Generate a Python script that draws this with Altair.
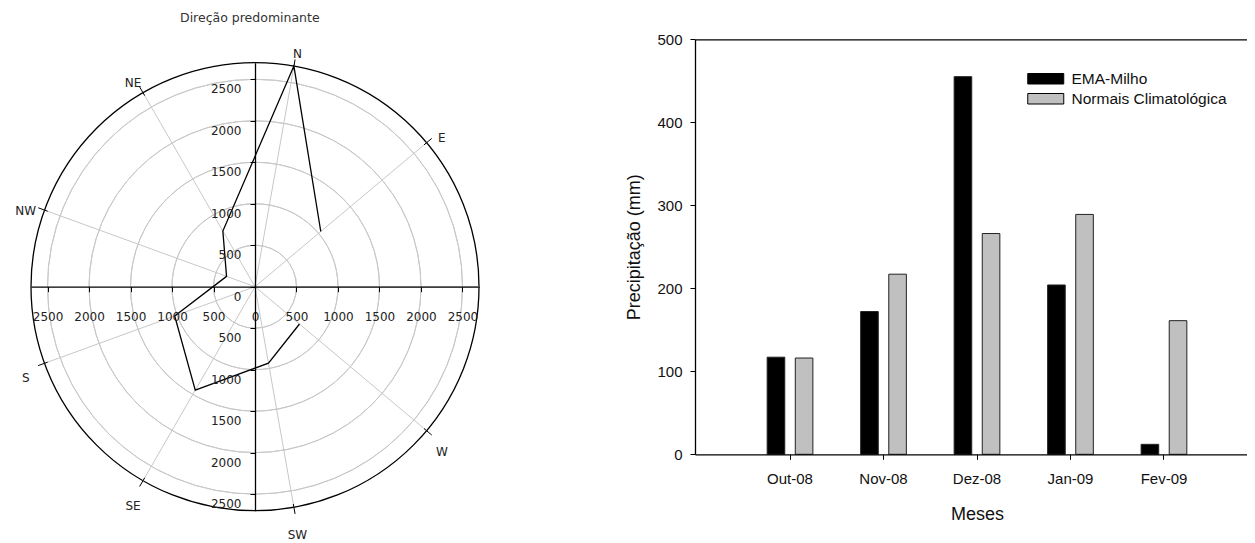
import altair as alt
import pandas as pd

# ---------------- data ----------------
polar_title = "Direção predominante"
spokes = ["N", "E", "", "W", "SW", "SE", "S", "NW", "NE"]
wind = [2700, 1035, None, 700, 935, 1440, 1030, 365, 775]
ring_values = [500, 1000, 1500, 2000, 2500]
polar_ticks = [-2500, -2000, -1500, -1000, -500, 0, 500, 1000, 1500, 2000, 2500]
R_MAX = 2700

months = ["Out-08", "Nov-08", "Dez-08", "Jan-09", "Fev-09"]
ema_milho = [117, 172, 455, 204, 12]
normais = [116, 217, 266, 289, 161]
series = ["EMA-Milho", "Normais Climatológica"]
bar_ticks = [0, 100, 200, 300, 400, 500]

# ---------------- layout (pixels, plot coordinates) ----------------
W, H = 1239, 513
PAD_TOP = 22
CX, CY, RPX = 247, 256.7, 224
LABEL_R = R_MAX * 244 / 224
BAR_X0, BAR_X1 = 687, 1251
BAR_Y0, BAR_Y500 = 424.3, 9.3
FONT_P = "DejaVu Sans"
FONT_B = "Liberation Sans"

# ---------------- polar chart ----------------
sx = alt.Scale(domain=[-R_MAX, R_MAX], range=[CX - RPX, CX + RPX], nice=False, zero=False)
sy = alt.Scale(domain=[-R_MAX, R_MAX], range=[CY + RPX, CY - RPX], nice=False, zero=False)
srad = alt.Scale(type="linear", domain=[0, R_MAX], range=[0, RPX], zero=True)

common_ax = dict(values=polar_ticks, labelExpr="format(abs(datum.value), 'd')", title=None,
                 grid=False, tickSize=5, tickColor="black", domainColor="black",
                 domainWidth=1.3, tickWidth=1, labelFont=FONT_P, labelFontSize=12,
                 labelColor="#222", labelFlush=False, labelOverlap=False, zindex=1)
ax_x = alt.Axis(orient="bottom", offset=-(H - CY), labelPadding=20, **common_ax)
ax_y = alt.Axis(orient="left", offset=-CX, labelPadding=9, labelOffset=9.5, **common_ax)


def PX(f):
    return alt.X(f, type="quantitative", scale=sx, axis=ax_x)


def PY(f):
    return alt.Y(f, type="quantitative", scale=sy, axis=ax_y)


spoke_df = pd.DataFrame({"i": list(range(len(spokes))), "dir": spokes, "v": wind})
ring_df = pd.DataFrame({"r": ring_values})
outer_df = pd.DataFrame({"r": [R_MAX]})

base = alt.Chart(spoke_df).transform_calculate(ang="(10 + 40 * datum.i) * PI / 180")

rings = alt.Chart(ring_df).transform_calculate(c0="0").mark_arc(
    theta=0, theta2=6.2832, fillOpacity=0, stroke="#c8c8c8", strokeWidth=1
).encode(x=PX("c0"), y=PY("c0"),
         radius=alt.Radius("r:Q", scale=srad), radius2=alt.Radius2("r:Q"))

outer = alt.Chart(outer_df).transform_calculate(c0="0").mark_arc(
    theta=0, theta2=6.2832, fillOpacity=0, stroke="black", strokeWidth=1.3
).encode(x=PX("c0"), y=PY("c0"),
         radius=alt.Radius("r:Q", scale=srad), radius2=alt.Radius2("r:Q"))

spoke_lines = base.transform_calculate(
    p0="0", ex=f"{R_MAX} * sin(datum.ang)", ey=f"{R_MAX} * cos(datum.ang)"
).mark_rule(color="#c8c8c8", strokeWidth=1).encode(
    x=PX("p0"), y=PY("p0"), x2="ex:Q", y2="ey:Q")

outer_ticks = base.transform_filter("datum.dir != ''").transform_calculate(
    ax0=f"{R_MAX * 0.985} * sin(datum.ang)", ay0=f"{R_MAX * 0.985} * cos(datum.ang)",
    ax1=f"{R_MAX * 1.03} * sin(datum.ang)", ay1=f"{R_MAX * 1.03} * cos(datum.ang)"
).mark_rule(color="black", strokeWidth=1).encode(
    x=PX("ax0"), y=PY("ay0"), x2="ax1:Q", y2="ay1:Q")

poly = base.transform_filter("isValid(datum.v)").transform_calculate(
    vx="datum.v * sin(datum.ang)", vy="datum.v * cos(datum.ang)", o="(datum.i + 6) % 9"
).mark_line(color="black", strokeWidth=1.3).encode(
    x=PX("vx"), y=PY("vy"), order="o:Q")

dir_labels = base.transform_filter("datum.dir != ''").transform_calculate(
    lx=f"{LABEL_R} * sin(datum.ang)", ly=f"{LABEL_R} * cos(datum.ang)"
).mark_text(font=FONT_P, fontSize=12, color="#222", dy=8).encode(
    x=PX("lx"), y=PY("ly"), text="dir:N")

polar = alt.layer(rings, outer, spoke_lines, outer_ticks, poly, dir_labels)

# ---------------- bar chart ----------------
bar_df = pd.DataFrame({
    "Meses": months * 2,
    "Série": [series[0]] * len(months) + [series[1]] * len(months),
    "Precipitação": ema_milho + normais,
})

bx_scale = alt.Scale(type="band", domain=months, range=[BAR_X0, BAR_X1],
                     paddingInner=0.511, paddingOuter=0.772)
by_scale = alt.Scale(domain=[0, 500], range=[BAR_Y0, BAR_Y500], nice=False)

bx_axis = alt.Axis(orient="bottom", offset=-(H - BAR_Y0), title="Meses",
                   titleFont=FONT_B, titleFontSize=18, titleFontWeight="normal",
                   titleColor="#111", titleX=(BAR_X0 + BAR_X1) / 2, titleY=65,
                   titleBaseline="alphabetic", titleAlign="center",
                   labelAngle=0, labelFont=FONT_B, labelFontSize=15, labelColor="#111",
                   labelPadding=12, tickSize=5, tickColor="black", domainColor="black",
                   domainWidth=1.3, grid=False, zindex=1)
by_axis = alt.Axis(orient="left", offset=-BAR_X0, values=bar_ticks,
                   title="Precipitação (mm)", titleFont=FONT_B, titleFontSize=18,
                   titleFontWeight="normal", titleColor="#111", titleX=-56,
                   titleY=(BAR_Y0 + BAR_Y500) / 2, titleBaseline="alphabetic",
                   titleAlign="center", labelFont=FONT_B, labelFontSize=15,
                   labelColor="#111", labelPadding=8, tickSize=5, tickColor="black",
                   domainColor="black", domainWidth=1.3, grid=False, zindex=1)

legend = alt.Legend(title=None, orient="none", legendX=1018, legendY=41,
                    symbolType="M-3,-0.875H3V0.875H-3Z", symbolSize=144,
                    symbolStrokeColor="black", symbolStrokeWidth=1, symbolOffset=12,
                    labelOffset=18, labelFont=FONT_B, labelFontSize=15.5,
                    labelColor="#111", rowPadding=3, padding=0)

bars = alt.Chart(bar_df).mark_bar(stroke="#222", strokeWidth=1).encode(
    x=alt.X("Meses:N", sort=months, scale=bx_scale, axis=bx_axis),
    xOffset=alt.XOffset("Série:N", sort=series, scale=alt.Scale(paddingInner=0.374)),
    y=alt.Y("Precipitação:Q", scale=by_scale, axis=by_axis),
    color=alt.Color("Série:N", sort=series,
                    scale=alt.Scale(domain=series, range=["#000000", "#c0c0c0"]),
                    legend=legend),
)

frame = alt.Chart(bar_df).mark_point(opacity=0).encode(
    x=alt.X("Meses:N", sort=months, scale=bx_scale,
            axis=alt.Axis(orient="top", offset=-BAR_Y500, labels=False, ticks=False,
                          title=None, domainColor="black", domainWidth=1.3,
                          grid=False, zindex=1)),
)

bar_group = alt.layer(bars, frame).resolve_axis(x="independent")

chart = alt.layer(polar, bar_group).resolve_scale(
    x="independent", y="independent"
).properties(
    width=W, height=H,
    autosize=alt.AutoSizeParams(type="none"),
    padding={"left": 0, "top": PAD_TOP, "right": 0, "bottom": 0},
    title=alt.TitleParams(polar_title, anchor="start", frame="group", dx=172, offset=6,
                          font=FONT_P, fontSize=12.5, fontWeight="normal", color="#333"),
).configure(font=FONT_B).configure_view(stroke="transparent")

chart.save("out.html", embed_options={"renderer": "svg", "actions": False})
